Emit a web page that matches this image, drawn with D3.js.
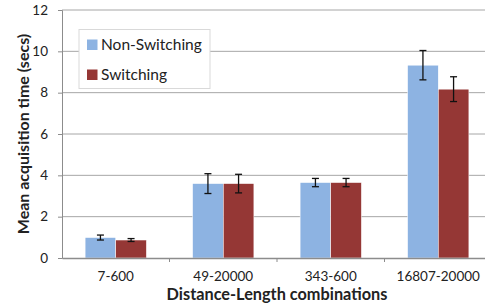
<!DOCTYPE html>
<html lang="en">
<head>
<meta charset="UTF-8">
<title>Mean acquisition time</title>
<script src="https://cdn.jsdelivr.net/npm/d3@7"></script>
<style>
  body { margin: 0; background: #fff; }
  text { font-family: Lato, "Open Sans", sans-serif; fill: #222; }
</style>
</head>
<body>
<svg id="chart" width="485" height="306"></svg>
<script>
const categories = ["7-600", "49-20000", "343-600", "16807-20000"];
const seriesNames = ["Non-Switching", "Switching"];
const nonSwitching = [0.99, 3.6, 3.65, 9.33];
const switching = [0.87, 3.6, 3.65, 8.17];
const errNonSwitching = [0.12, 0.48, 0.2, 0.71];
const errSwitching = [0.07, 0.45, 0.2, 0.6];
const yTicks = [0, 2, 4, 6, 8, 10, 12];
const colors = ["#8db3e2", "#953735"];

const svg = d3.select("#chart");
const plotLeft = 62, plotRight = 492, plotTop = 10, plotBottom = 258;

const x = d3.scaleBand().domain(categories).range([plotLeft, plotRight]);
const y = d3.scaleLinear().domain([0, 12]).range([plotBottom, plotTop]);
const barW = x.bandwidth() * 0.285;

// gridlines
svg.append("g").selectAll("line").data(yTicks.filter(d => d > 0)).join("line")
  .attr("x1", plotLeft).attr("x2", plotRight)
  .attr("y1", d => y(d)).attr("y2", d => y(d))
  .attr("stroke", "#a6a6a6").attr("stroke-width", 1);

// y axis
const yAxis = svg.append("g").attr("transform", `translate(${plotLeft},0)`)
  .call(d3.axisLeft(y).tickValues(yTicks).tickSize(4).tickPadding(10));
yAxis.select(".domain").attr("stroke", "#8c8c8c");
yAxis.selectAll(".tick line").attr("stroke", "#8c8c8c");
yAxis.selectAll("text").attr("font-size", 13.5).style("fill", "#222");

const series = [nonSwitching, switching];
const errs = [errNonSwitching, errSwitching];

series.forEach((vals, s) => {
  const g = svg.append("g");
  g.selectAll("rect").data(categories).join("rect")
    .attr("x", c => x(c) + x.bandwidth() / 2 - barW + s * barW)
    .attr("width", barW)
    .attr("y", (c, i) => y(vals[i]))
    .attr("height", (c, i) => y(0) - y(vals[i]))
    .attr("fill", colors[s])
    .attr("stroke", "#fff").attr("stroke-width", 0.5);

  const eb = g.selectAll(".err").data(categories).join("g").attr("class", "err")
    .attr("stroke", "#111").attr("stroke-width", 1.3);
  const cx = c => x(c) + x.bandwidth() / 2 - barW / 2 + s * barW;
  eb.append("line")
    .attr("x1", cx).attr("x2", cx)
    .attr("y1", (c, i) => y(vals[i] + errs[s][i]))
    .attr("y2", (c, i) => y(vals[i] - errs[s][i]));
  [1, -1].forEach(sign => {
    eb.append("line")
      .attr("x1", c => cx(c) - 3.5).attr("x2", c => cx(c) + 3.5)
      .attr("y1", (c, i) => y(vals[i] + sign * errs[s][i]))
      .attr("y2", (c, i) => y(vals[i] + sign * errs[s][i]));
  });
});

// x axis
const xAxis = svg.append("g").attr("transform", `translate(0,${plotBottom})`)
  .call(d3.axisBottom(x).tickSize(0).tickPadding(13));
xAxis.select(".domain").attr("stroke", "#8c8c8c").attr("stroke-width", 1.5);
xAxis.selectAll("text").attr("font-size", 13.5).style("fill", "#222");
xAxis.selectAll(".sep").data(categories.slice(1)).join("line").attr("class", "sep")
  .attr("x1", c => x(c)).attr("x2", c => x(c))
  .attr("y1", 0).attr("y2", 4).attr("stroke", "#8c8c8c");

// axis titles
svg.append("text")
  .attr("x", 277).attr("y", 300).attr("text-anchor", "middle")
  .attr("font-size", 16.3).attr("font-weight", "bold")
  .text("Distance-Length combinations");
svg.append("text")
  .attr("transform", "translate(29,134) rotate(-90)").attr("text-anchor", "middle")
  .attr("font-size", 16).attr("font-weight", "bold")
  .text("Mean acquisition time (secs)");

// legend
const lg = svg.append("g");
lg.append("rect").attr("x", 79).attr("y", 29.5).attr("width", 131).attr("height", 59)
  .attr("fill", "#fff").attr("stroke", "#d9d9d9");
seriesNames.forEach((n, i) => {
  lg.append("rect").attr("x", 87).attr("y", 39.5 + i * 30).attr("width", 10.5).attr("height", 10.5)
    .attr("fill", colors[i]);
  lg.append("text").attr("x", 101).attr("y", 50 + i * 30).attr("font-size", 15.5).text(n);
});
</script>
</body>
</html>
